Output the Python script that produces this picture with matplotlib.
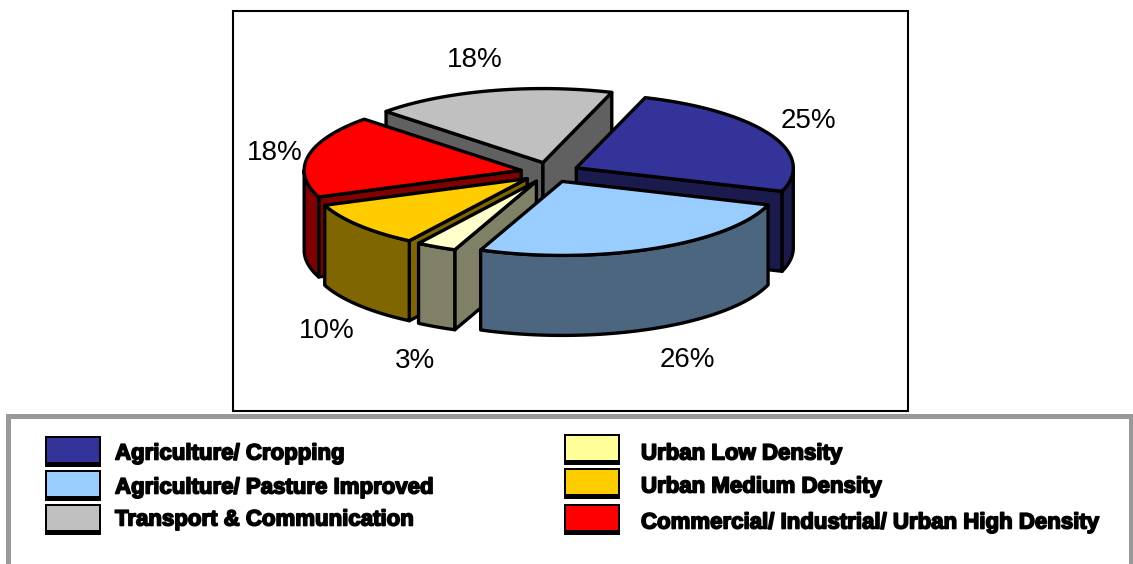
import numpy as np
import matplotlib
matplotlib.use('Agg')
import matplotlib.pyplot as plt
import matplotlib.patheffects as pe
from matplotlib.patches import Polygon, Rectangle

plt.rcParams['font.family'] = ['Liberation Sans', 'DejaVu Sans']

# data
categories = ['Agriculture/ Cropping', 'Agriculture/ Pasture Improved', 'Urban Low Density',
              'Urban Medium Density', 'Commercial/ Industrial/ Urban High Density',
              'Transport & Communication']
values = [25, 26, 3, 10, 18, 18]
pct_labels = ['25%', '26%', '3%', '10%', '18%', '18%']

# colours, same order as categories
top_cols = ['#333399', '#99CCFF', '#FFFFCC', '#FFCC00', '#FF0000', '#C0C0C0']
side_cols = ['#1A1A4D', '#4D6680', '#808066', '#806600', '#800000', '#606060']
legend_cols = ['#333399', '#99CCFF', '#FFFF99', '#FFCC00', '#FF0000', '#C0C0C0']

# layout, pixels
cx, cy = 550, 172.3
rx, ry = 217, 74
depth = 80
explode = 29.4
start = 18.5
label_pos = [(808, 121), (687, 360), (415, 361), (327, 331), (275, 153), (475, 60)]
draw_order = [5, 0, 4, 3, 2, 1]
legend_left = [0, 1, 5]
legend_right = [2, 3, 4]
left_rows = [(436, 454), (470, 488), (504, 520)]
right_rows = [(434, 454), (468, 487), (504, 523)]


def pt(a, x0, y0, r=1.0):
    a = np.radians(a)
    return x0 + r * rx * np.sin(a), y0 - r * ry * np.cos(a)


def draw_slice(ax, a0, a1, top, side):
    mid = np.radians((a0 + a1) / 2)
    x0 = cx + explode * np.sin(mid)
    y0 = cy - explode * ry / rx * np.cos(mid)
    lw = 2.4
    # radial side faces
    for a, visible in ((a0, np.sin(np.radians(a0)) < 0), (a1, np.sin(np.radians(a1)) > 0)):
        if visible:
            x, y = pt(a, x0, y0)
            ax.add_patch(Polygon([(x0, y0), (x, y), (x, y + depth), (x0, y0 + depth)],
                                 fc=side, ec='k', lw=lw, joinstyle='round'))
    # curved outer face, front part only
    lo, hi = max(a0, 90), min(a1, 270)
    if hi > lo:
        t = np.linspace(lo, hi, 80)
        x, y = pt(t, x0, y0)
        xy = np.r_[np.c_[x, y], np.c_[x[::-1], y[::-1] + depth]]
        ax.add_patch(Polygon(xy, fc=side, ec='k', lw=lw, joinstyle='round'))
    # top face
    t = np.linspace(a0, a1, 120)
    x, y = pt(t, x0, y0)
    xy = np.r_[[(x0, y0)], np.c_[x, y]]
    ax.add_patch(Polygon(xy, fc=top, ec='k', lw=lw, joinstyle='round'))


def legend_row(ax, idx, swatch_x, text_x, rows):
    for i, (ytop, ytext) in zip(idx, rows):
        ax.add_patch(Rectangle((swatch_x, ytop), 56, 31, fc='k', ec='none'))
        ax.add_patch(Rectangle((swatch_x + 2, ytop + 2), 52, 24, fc=legend_cols[i], ec='none'))
        ax.text(text_x, ytext, categories[i], fontsize=16, fontweight='bold', va='center', ha='left',
                color='k', path_effects=[pe.withStroke(linewidth=1.2, foreground='k')])


fig = plt.figure(figsize=(11.33, 5.64), dpi=100)
ax = fig.add_axes([0, 0, 1, 1])
ax.set_xlim(0, 1133)
ax.set_ylim(564, 0)
ax.axis('off')

# boxes
ax.add_patch(Rectangle((233, 10.5), 675, 400, fc='w', ec='k', lw=1.5))
ax.add_patch(Rectangle((8, 415.5), 1122.5, 170, fc='w', ec='#999999', lw=3.6))

# slice angles, clockwise from 12 o'clock
edges = start + np.r_[0, np.cumsum(values)] * 360.0 / sum(values)
for i in draw_order:
    draw_slice(ax, edges[i], edges[i + 1], top_cols[i], side_cols[i])

for lab, (x, y) in zip(pct_labels, label_pos):
    ax.text(x, y, lab, fontsize=20, ha='center', va='center', color='k')

legend_row(ax, legend_left, 45, 115, left_rows)
legend_row(ax, legend_right, 564, 641, right_rows)

fig.savefig('out.png', dpi=100)
